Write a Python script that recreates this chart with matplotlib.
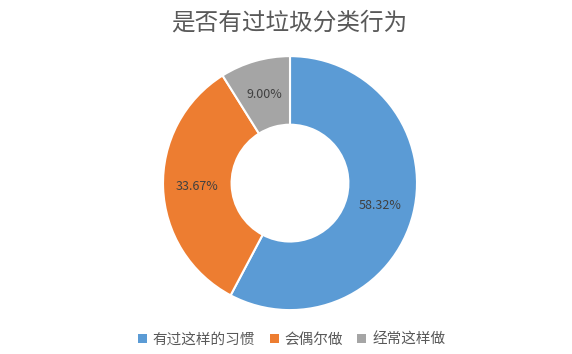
import matplotlib.pyplot as plt
from matplotlib.patches import Patch

plt.rcParams['font.family'] = ['Noto Sans CJK SC', 'DejaVu Sans']

# ── DONNÉES ──
labels = ["有过这样的习惯", "会偶尔做", "经常这样做"]
values = [58.32, 33.67, 9.00]
colors = ["#5B9BD5", "#ED7D31", "#A5A5A5"]
title = "是否有过垃圾分类行为"

fig = plt.figure(figsize=(5.72, 3.54), dpi=100)
ax = fig.add_axes([0.285, 0.124, 0.444, 0.7175])

# les pourcentages affichés sont ceux du tableau (la somme fait 100.99)
shown = iter(values)
wedges, texts, autotexts = ax.pie(
    values, colors=colors, startangle=90, counterclock=False,
    radius=1.0, autopct=lambda p: f"{next(shown):.2f}%", pctdistance=0.73,
    wedgeprops=dict(width=0.54, edgecolor="white", linewidth=1.5),
    textprops=dict(color="#404040", fontsize=9),
)
ax.set_xlim(-1, 1)
ax.set_ylim(-1, 1)
ax.set_aspect("equal")

fig.text(0.505, 0.935, title, ha="center", va="center", fontsize=17, color="#595959")

handles = [Patch(facecolor=c, edgecolor="none") for c in colors]
fig.legend(handles, labels, loc="center", bbox_to_anchor=(0.51, 0.04), ncol=3,
           frameon=False, fontsize=10.5, labelcolor="#595959",
           handlelength=0.6, handleheight=0.6, handletextpad=0.4, columnspacing=1.0)

fig.savefig("out.png", dpi=100)
